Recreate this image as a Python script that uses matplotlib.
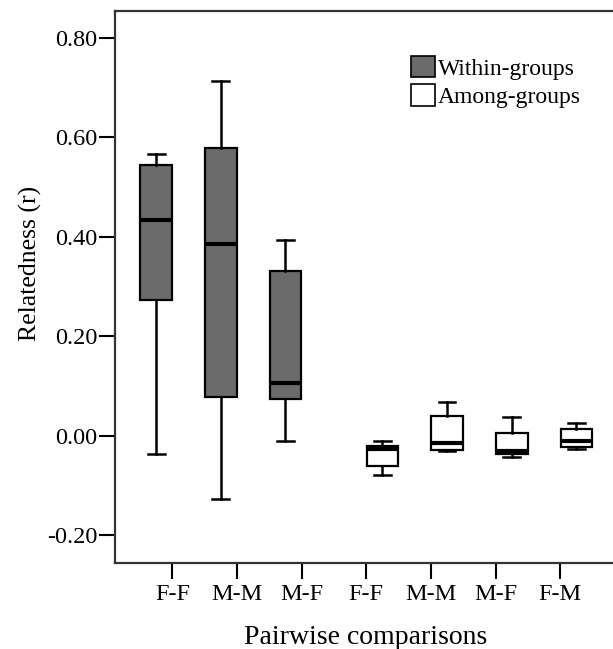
import matplotlib
matplotlib.use("Agg")
from matplotlib import pyplot
from matplotlib.patches import Patch

categories = ["F-F", "M-M", "M-F", "F-F", "M-M", "M-F", "F-M"]

# per box: lower whisker, q1, median, q3, upper whisker
within_idx = [0, 1, 2]
within_low = [-0.037, -0.127, -0.011]
within_q1 = [0.272, 0.078, 0.074]
within_med = [0.433, 0.386, 0.107]
within_q3 = [0.545, 0.579, 0.331]
within_high = [0.566, 0.714, 0.393]

among_idx = [3, 4, 5, 6]
among_low = [-0.080, -0.031, -0.043, -0.026]
among_q1 = [-0.060, -0.029, -0.037, -0.022]
among_med = [-0.027, -0.015, -0.030, -0.010]
among_q3 = [-0.020, 0.040, 0.005, 0.013]
among_high = [-0.010, 0.067, 0.037, 0.026]

yticks = [-0.20, 0.00, 0.20, 0.40, 0.60, 0.80]

pyplot.rcParams["font.family"] = ["Liberation Serif", "DejaVu Serif"]

W, H = 613, 649
fig = pyplot.figure(figsize=(W / 100, H / 100), dpi=100)
left, right, top, bottom = 114.5, 618, 10.7, 562.7
ax = fig.add_axes([left / W, 1 - bottom / H, (right - left) / W, (bottom - top) / H])


def stats(low, q1, med, q3, high):
    return [dict(whislo=a, q1=b, med=c, q3=d, whishi=e, fliers=[])
            for a, b, c, d, e in zip(low, q1, med, q3, high)]


def draw(idx, st, offset, color):
    ax.bxp(st, positions=[i + offset for i in idx], widths=0.49, patch_artist=True,
           showfliers=False,
           boxprops=dict(facecolor=color, edgecolor="black", linewidth=1.6),
           medianprops=dict(color="black", linewidth=3.0, solid_capstyle="butt"),
           whiskerprops=dict(color="black", linewidth=1.8),
           capprops=dict(color="black", linewidth=1.8),
           capwidths=0.26, manage_ticks=False)


draw(within_idx, stats(within_low, within_q1, within_med, within_q3, within_high), -0.25, "#6b6b6b")
draw(among_idx, stats(among_low, among_q1, among_med, among_q3, among_high), 0.25, "white")

ax.set_xlim(-0.894, 6.894)
ax.set_ylim(-0.2555, 0.855)
ax.set_xticks(range(len(categories)))
ax.set_xticklabels(categories)
ax.set_yticks(yticks)
ax.set_yticklabels([f"{v:.2f}" for v in yticks])
ax.tick_params(axis="both", direction="out", length=11.5, width=1.5, labelsize=17.5,
               colors="black", pad=1)
ax.tick_params(axis="x", pad=4)
for s in ax.spines.values():
    s.set_linewidth(1.6)
    s.set_color("#333333")

fig.text(30 / W, 1 - 263 / H, "Relatedness (r)", rotation=90, ha="center", va="center",
         fontsize=18.5)
fig.text(366 / W, 1 - 638 / H, "Pairwise comparisons", ha="center", va="center",
         fontsize=20)

handles = [Patch(facecolor="#6b6b6b", edgecolor="black", linewidth=1.2),
           Patch(facecolor="white", edgecolor="black", linewidth=1.2)]
fig.legend(handles, ["Within-groups", "Among-groups"], loc="upper left",
           bbox_to_anchor=(411 / W, 1 - 56 / H), frameon=False, fontsize=17,
           handlelength=1.0, handleheight=1.0, handletextpad=0.15,
           labelspacing=0.2, borderpad=0, borderaxespad=0)

pyplot.savefig("out.png", dpi=100)
